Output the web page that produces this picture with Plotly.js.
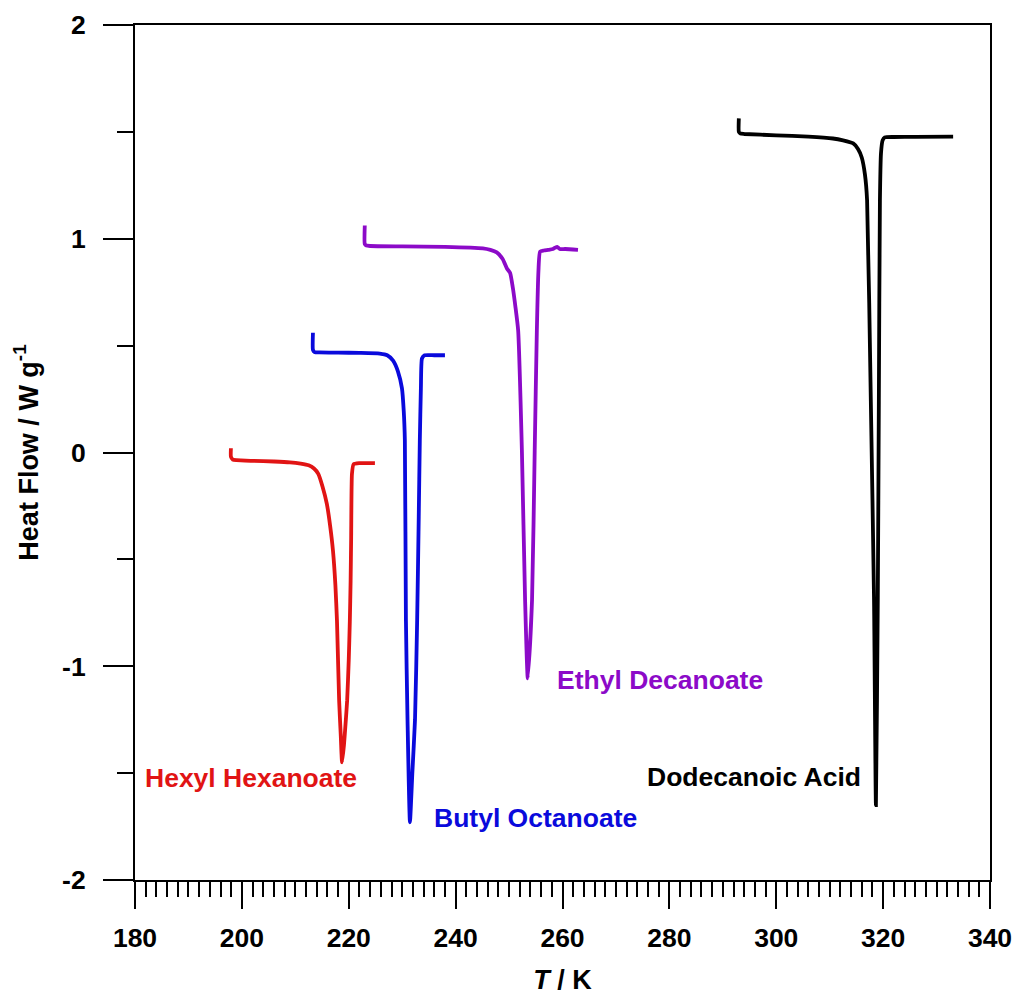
<!DOCTYPE html>
<html>
<head>
<meta charset="utf-8">
<script src="https://cdn.plot.ly/plotly-3.0.1.min.js"></script>
<style>html,body{margin:0;padding:0;background:#fff;}#chart{width:1016px;height:1001px;}</style>
</head>
<body>
<div id="chart"></div>
<script>
// Hexyl Hexanoate (red)
const T_hexylHexanoate = [197.95, 197.95, 198.3, 199, 202, 206, 209, 211, 212.5, 213.5, 214.3, 215.1, 215.9, 216.5, 217.05, 217.5, 217.8, 218.2, 218.5, 218.75, 219.1, 219.4, 219.7, 220.0, 220.2, 220.35, 220.45, 220.6, 220.9, 222, 224.9];
const HF_hexylHexanoate = [0.02, -0.02, -0.033, -0.036, -0.039, -0.042, -0.046, -0.052, -0.06, -0.075, -0.1, -0.16, -0.24, -0.34, -0.46, -0.62, -0.79, -1.16, -1.32, -1.45, -1.37, -1.27, -1.16, -0.97, -0.79, -0.6, -0.4, -0.1, -0.055, -0.05, -0.05];

// Butyl Octanoate (blue)
const T_butylOctanoate = [213.3, 213.3, 213.6, 214.5, 218, 222, 225.8, 227.2, 228.3, 229.2, 229.96, 230.3, 230.5, 230.7, 231.0, 231.45, 231.9, 232.4, 232.8, 233.1, 233.3, 233.5, 233.7, 234.2, 236, 238.0];
const HF_butylOctanoate = [0.56, 0.48, 0.47, 0.468, 0.467, 0.466, 0.463, 0.455, 0.43, 0.38, 0.30, 0.19, 0.056, -0.786, -1.25, -1.73, -1.5, -1.25, -0.786, -0.3, 0.056, 0.3, 0.44, 0.455, 0.455, 0.455];

// Ethyl Decanoate (purple)
const T_ethylDecanoate = [223.0, 223.0, 223.3, 224, 230, 238, 245.1, 246.5, 247.7, 248.8, 249.6, 250.2, 250.7, 251.2, 251.7, 252.4, 253.0, 253.5, 254.3, 254.8, 255.2, 255.5, 255.8, 256.5, 257.3, 258.2, 258.6, 259.0, 259.5, 260.5, 262.9];
const HF_ethylDecanoate = [1.062, 0.975, 0.968, 0.966, 0.964, 0.962, 0.955, 0.948, 0.936, 0.905, 0.861, 0.84, 0.772, 0.68, 0.571, 0.01, -0.69, -1.057, -0.69, 0.01, 0.571, 0.85, 0.94, 0.945, 0.948, 0.952, 0.958, 0.962, 0.952, 0.952, 0.948];

// Dodecanoic Acid (black)
const T_dodecanoicAcid = [293.0, 293.0, 293.3, 294, 300, 306, 310.6, 312.5, 314.4, 315.3, 316.0, 316.6, 317.0, 317.7, 318.3, 318.65, 319.0, 319.2, 319.4, 319.6, 319.9, 320.3, 322, 326, 333.1];
const HF_dodecanoicAcid = [1.563, 1.50, 1.492, 1.49, 1.484, 1.478, 1.469, 1.46, 1.446, 1.42, 1.38, 1.3, 1.18, 0.24, -0.69, -1.65, -0.69, 0.24, 1.18, 1.40, 1.46, 1.474, 1.476, 1.477, 1.478];

const seriesNames = ["Hexyl Hexanoate", "Butyl Octanoate", "Ethyl Decanoate", "Dodecanoic Acid"];
const xTickVals = [180, 200, 220, 240, 260, 280, 300, 320, 340];
const yTickVals = [-2, -1, 0, 1, 2];
const yTickText = ["-2", "-1", "0", "1", "2"];

const colors = ["rgb(225,20,20)", "rgb(10,10,220)", "rgb(140,10,200)", "rgb(0,0,0)"];
const xs = [T_hexylHexanoate, T_butylOctanoate, T_ethylDecanoate, T_dodecanoicAcid];
const ys = [HF_hexylHexanoate, HF_butylOctanoate, HF_ethylDecanoate, HF_dodecanoicAcid];

const traces = seriesNames.map((n, i) => ({
  x: xs[i], y: ys[i], name: n, type: 'scatter', mode: 'lines',
  line: {color: colors[i], width: 3.8, shape: 'spline', smoothing: 0.5}, showlegend: false
}));

// label placement (left edge, vertical centre) in data coordinates
const labelPos = [[181.5, -1.525], [235.6, -1.712], [258.6, -1.062], [275.4, -1.516]];

const FONT = 'Liberation Sans, Arial, Helvetica, sans-serif';
const annotations = seriesNames.map((n, i) => ({
  x: labelPos[i][0], y: labelPos[i][1], xref: 'x', yref: 'y',
  text: n, showarrow: false, xanchor: 'left', yanchor: 'middle',
  font: {family: FONT, size: 26.5, color: colors[i], weight: 700}
}));

const layout = {
  width: 1016, height: 1001,
  margin: {l: 135, r: 26, t: 25, b: 121},
  paper_bgcolor: '#fff', plot_bgcolor: '#fff',
  font: {family: FONT, size: 26, color: '#000', weight: 700},
  showlegend: false,
  annotations: annotations,
  xaxis: {
    range: [180, 340], tickvals: xTickVals, ticks: 'outside', ticklen: 27, tickwidth: 2, tickcolor: '#000',
    showline: true, linewidth: 2, linecolor: '#000', mirror: true,
    showgrid: false, zeroline: false,
    minor: {dtick: 2, tick0: 180, ticks: 'outside', ticklen: 15, tickwidth: 2, tickcolor: '#000', showgrid: false},
    tickfont: {family: FONT, size: 26.5, color: '#000', weight: 700},
    ticklabelstandoff: 6,
    title: {text: '<i>T</i> / K', font: {family: FONT, size: 27, color: '#000', weight: 700}, standoff: 18}
  },
  yaxis: {
    range: [-2, 2], tickvals: yTickVals, ticktext: yTickText, ticks: 'outside', ticklen: 30, tickwidth: 2, tickcolor: '#000',
    showline: true, linewidth: 2, linecolor: '#000', mirror: true,
    showgrid: false, zeroline: false,
    minor: {dtick: 0.5, tick0: 0, ticks: 'outside', ticklen: 16, tickwidth: 2, tickcolor: '#000', showgrid: false},
    tickfont: {family: FONT, size: 26.5, color: '#000', weight: 700},
    ticklabelstandoff: 12,
    title: {text: 'Heat Flow / W g<sup>-1</sup>', font: {family: FONT, size: 27, color: '#000', weight: 700}, standoff: 16}
  }
};

Plotly.newPlot('chart', traces, layout, {displayModeBar: false, staticPlot: true});
</script>
</body>
</html>
